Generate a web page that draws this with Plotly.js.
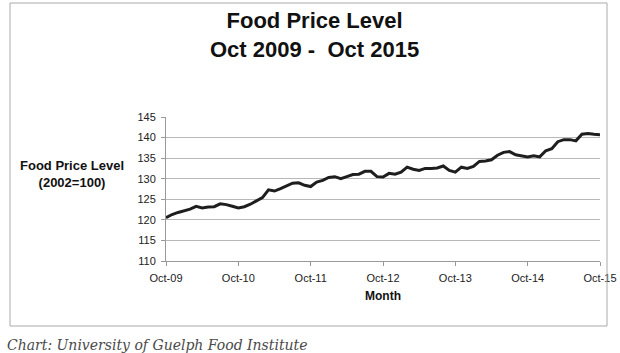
<!DOCTYPE html>
<html>
<head>
<meta charset="utf-8">
<script src="https://cdn.plot.ly/plotly-3.0.1.min.js"></script>
<style>
html,body{margin:0;padding:0;background:#fff;}
#chart{width:620px;height:353px;}
</style>
</head>
<body>
<div id="chart"></div>
<script>
// Month index from Oct-09 (0) to Oct-15 (72)
const monthIndex = Array.from({length: 73}, (_, i) => i);
const foodPriceLevel = [
  120.5, 121.3, 121.8, 122.2, 122.6, 123.3, 122.9, 123.1, 123.2, 123.9,
  123.7, 123.3, 122.9, 123.2, 123.8, 124.6, 125.4, 127.3, 127.0, 127.6,
  128.3, 128.9, 129.0, 128.4, 128.1, 129.2, 129.6, 130.3, 130.5, 130.0,
  130.5, 131.0, 131.1, 131.8, 131.8, 130.5, 130.4, 131.3, 131.1, 131.6,
  132.8, 132.3, 132.0, 132.5, 132.5, 132.6, 133.1, 132.0, 131.6, 132.8,
  132.5, 133.0, 134.2, 134.3, 134.6, 135.7, 136.4, 136.6, 135.8, 135.5,
  135.3, 135.6, 135.3, 136.8, 137.3, 139.0, 139.5, 139.5, 139.2, 140.8,
  141.0, 140.8, 140.7
];
const xTickVals = [0, 12, 24, 36, 48, 60, 72];
const xTickText = ["Oct-09", "Oct-10", "Oct-11", "Oct-12", "Oct-13", "Oct-14", "Oct-15"];
const yTickVals = [110, 115, 120, 125, 130, 135, 140, 145];

const trace = {
  x: monthIndex,
  y: foodPriceLevel,
  type: 'scatter',
  mode: 'lines',
  line: {color: '#1e1e1e', width: 3},
  hoverinfo: 'skip'
};

const sans = 'Liberation Sans, Arial, sans-serif';
const axisFont = {family: sans, size: 11, color: '#222'};

// plot area: x 166..600, y 117..261
const PL = 166, PR = 600, PT = 117, PB = 261;
const PW = PR - PL, PH = PB - PT;

const layout = {
  width: 620, height: 353,
  margin: {l: PL, r: 620 - PR, t: PT, b: 353 - PB},
  paper_bgcolor: '#fff', plot_bgcolor: '#fff',
  showlegend: false,
  xaxis: {
    range: [0, 72],
    tickvals: xTickVals, ticktext: xTickText,
    showgrid: false, zeroline: false,
    showline: true, linecolor: '#999', linewidth: 1,
    ticks: 'outside', ticklen: 4, tickcolor: '#999',
    ticklabelstandoff: 3,
    tickfont: axisFont,
    title: {text: '<b>Month</b>', font: {family: sans, size: 12, color: '#111'}, standoff: 8},
    fixedrange: true
  },
  yaxis: {
    range: [110, 145],
    tickvals: yTickVals,
    showgrid: true, gridcolor: '#b8b8b8', gridwidth: 1,
    zeroline: false,
    showline: true, linecolor: '#999', linewidth: 1,
    ticks: 'outside', ticklen: 4, tickcolor: '#999',
    ticklabelstandoff: 3,
    tickfont: axisFont,
    fixedrange: true
  },
  annotations: [
    {
      text: '<b>Food Price Level</b><br><b>Oct 2009 -  Oct 2015</b>',
      xref: 'paper', yref: 'paper', x: (314 - PL) / PW, y: 1 + (PT - 35) / PH,
      xanchor: 'center', yanchor: 'middle', showarrow: false,
      font: {family: sans, size: 22, color: '#111'}
    },
    {
      text: '<b>Food Price Level</b><br><b>(2002=100)</b>',
      xref: 'paper', yref: 'paper', x: (72 - PL) / PW, y: 1 - (174 - PT) / PH,
      xanchor: 'center', yanchor: 'middle', showarrow: false,
      font: {family: sans, size: 13, color: '#111'}
    },
    {
      text: '<i>Chart: University of Guelph Food Institute</i>',
      xref: 'paper', yref: 'paper', x: (5 - PL) / PW, y: -(345 - PB) / PH,
      xanchor: 'left', yanchor: 'middle', showarrow: false,
      font: {family: 'DejaVu Serif, serif', size: 14, color: '#4a4a4a'}
    }
  ],
  shapes: [
    {
      type: 'rect', xref: 'paper', yref: 'paper',
      x0: (10 - PL) / PW, x1: (607 - PL) / PW,
      y0: -(326 - PB) / PH, y1: 1 + (PT - 3) / PH,
      line: {color: '#aaa', width: 1}, fillcolor: 'rgba(0,0,0,0)'
    }
  ]
};

Plotly.newPlot('chart', [trace], layout, {displayModeBar: false, staticPlot: true});
</script>
</body>
</html>
